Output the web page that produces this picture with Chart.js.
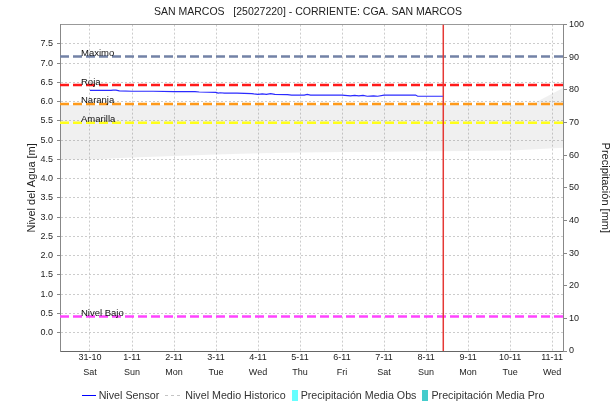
<!DOCTYPE html>
<html>
<head>
<meta charset="utf-8">
<script src="https://cdn.jsdelivr.net/npm/chart.js@4.4.0/dist/chart.umd.min.js"></script>
<style>
    html, body { margin: 0; padding: 0; background: #fff; }
    #wrap { position: relative; width: 616px; height: 402px; }
    #legend {
        position: absolute; left: 0; top: 389px; width: 626px;
        display: flex; justify-content: center; align-items: center;
        font: 10.7px 'Liberation Sans', Arial, sans-serif; color: #333;
    }
    #legend .item { display: flex; align-items: center; margin: 0 3px; }
    #legend .line { width: 14px; height: 1px; background: #0000ff; margin-right: 3px; }
    #legend .dash { width: 16px; height: 1px; margin-right: 4px;
        background: repeating-linear-gradient(90deg, #c4c4c4 0 3px, transparent 3px 6px); }
    #legend .box { width: 6px; height: 11px; margin-right: 3px; }
</style>
</head>
<body>
<div id="wrap">
    <canvas id="chart" width="616" height="402"></canvas>
    <div id="legend">
        <div class="item"><span class="line"></span>Nivel Sensor</div>
        <div class="item"><span class="dash"></span>Nivel Medio Historico</div>
        <div class="item"><span class="box" style="background:#66ffff"></span>Precipitación Media Obs</div>
        <div class="item"><span class="box" style="background:#44cccc"></span>Precipitación Media Pro</div>
    </div>
</div>
<script>
// x axis in days since 31-10 00:00
const dayTicks = [0, 1, 2, 3, 4, 5, 6, 7, 8, 9, 10, 11];
const dateLabels = ['31-10', '1-11', '2-11', '3-11', '4-11', '5-11', '6-11', '7-11', '8-11', '9-11', '10-11', '11-11'];
const weekdayLabels = ['Sat', 'Sun', 'Mon', 'Tue', 'Wed', 'Thu', 'Fri', 'Sat', 'Sun', 'Mon', 'Tue', 'Wed'];

const levelTicks = [0, 0.5, 1, 1.5, 2, 2.5, 3, 3.5, 4, 4.5, 5, 5.5, 6, 6.5, 7, 7.5];
const precipTicks = [0, 10, 20, 30, 40, 50, 60, 70, 80, 90, 100];

const thresholdNames = ['Maximo', 'Roja', 'Naranja', 'Amarilla', 'Nivel Bajo'];
const thresholdLevels = [7.17, 6.43, 5.94, 5.45, 0.42];

const nowMarkerDay = [8.41];

const sensorDays = [0, 0.3, 0.5, 0.55, 0.62, 0.7, 1.0, 1.5, 2.0, 2.5, 2.6, 3.0, 3.05, 3.1, 3.2, 3.5,
    3.85, 3.9, 4.0, 4.1, 4.2, 4.3, 4.4, 4.7, 4.8, 5.1, 5.17, 5.25, 5.5, 6.0, 6.2, 6.3, 6.4, 6.5,
    6.6, 6.75, 6.85, 7.0, 7.4, 7.75, 7.8, 8.1, 8.4];
const sensorLevel = [6.29, 6.29, 6.29, 6.30, 6.30, 6.28, 6.27, 6.27, 6.26, 6.26, 6.25, 6.24, 6.22, 6.23, 6.22, 6.22,
    6.21, 6.20, 6.19, 6.20, 6.19, 6.21, 6.19, 6.18, 6.17, 6.17, 6.19, 6.17, 6.17, 6.17, 6.15, 6.16, 6.15, 6.16,
    6.14, 6.15, 6.14, 6.17, 6.17, 6.17, 6.14, 6.14, 6.14];

// historic range band
const bandDays = [-0.72, 0, 1, 2, 3, 4, 5, 6, 7, 8, 9, 10, 10.5, 11.27];
const bandHigh = [5.91, 5.91, 5.91, 5.91, 5.91, 5.91, 5.91, 5.91, 5.91, 5.91, 5.91, 5.91, 5.92, 6.36];
const bandLow = [4.49, 4.50, 4.55, 4.59, 4.63, 4.66, 4.68, 4.69, 4.70, 4.71, 4.72, 4.73, 4.76, 4.80];

const X_MIN = -0.714, X_MAX = 11.26;
const Y_MIN = -0.475, Y_MAX = 8.0;

const FONT = "'Liberation Sans', Arial, sans-serif";
const thresholdColors = ['#7382a6', '#ff1a1a', '#ff9a1a', '#ffff1a', '#ff44ff'];

const thresholdSets = thresholdLevels.map((v, i) => ({
    label: thresholdNames[i],
    data: [{ x: X_MIN, y: v }, { x: X_MAX, y: v }],
    borderColor: thresholdColors[i],
    borderWidth: 2.5,
    borderDash: [9, 4],
    pointRadius: 0,
    fill: false
}));

const thresholdLabels = {
    id: 'thresholdLabels',
    afterDatasetsDraw(chart) {
        const { ctx, chartArea, scales } = chart;
        ctx.save();
        ctx.font = '9.5px ' + FONT;
        ctx.fillStyle = '#111';
        ctx.textAlign = 'left';
        ctx.textBaseline = 'alphabetic';
        thresholdLevels.forEach((v, i) => {
            ctx.fillText(thresholdNames[i], chartArea.left + 21, scales.y.getPixelForValue(v) - 0.5);
        });
        ctx.restore();
    }
};

new Chart(document.getElementById('chart'), {
    type: 'line',
    data: {
        datasets: [
            {
                label: 'Nivel Sensor',
                data: sensorDays.map((d, i) => ({ x: d, y: sensorLevel[i] })),
                borderColor: '#2b2bff',
                borderWidth: 1.2,
                pointRadius: 0,
                fill: false
            },
            {
                label: 'Ahora',
                data: [{ x: nowMarkerDay[0], y: Y_MIN }, { x: nowMarkerDay[0], y: Y_MAX }],
                borderColor: '#e53935',
                borderWidth: 1.5,
                pointRadius: 0,
                fill: false
            },
            ...thresholdSets,
            {
                label: 'bandLow',
                data: bandDays.map((d, i) => ({ x: d, y: bandLow[i] })),
                borderWidth: 0,
                pointRadius: 0,
                fill: false
            },
            {
                label: 'bandHigh',
                data: bandDays.map((d, i) => ({ x: d, y: bandHigh[i] })),
                borderWidth: 0,
                pointRadius: 0,
                backgroundColor: 'rgba(120,120,120,0.11)',
                fill: '-1'
            }
        ]
    },
    options: {
        responsive: false,
        animation: false,
        devicePixelRatio: 1,
        layout: { padding: 0 },
        plugins: {
            legend: { display: false },
            tooltip: { enabled: false },
            title: {
                display: true,
                text: 'SAN MARCOS   [25027220] - CORRIENTE: CGA. SAN MARCOS',
                color: '#222',
                font: { family: FONT, size: 10.5, weight: 'normal' },
                padding: { top: 6, bottom: 6 }
            }
        },
        scales: {
            x: {
                type: 'linear',
                position: 'bottom',
                min: X_MIN,
                max: X_MAX,
                afterBuildTicks: s => { s.ticks = dayTicks.map(v => ({ value: v })); },
                afterFit: s => { s.height = 51; },
                grid: { color: '#cccccc', drawTicks: false },
                border: { display: true, color: '#666', dash: [2, 2] },
                ticks: {
                    color: '#222',
                    padding: -1,
                    maxRotation: 0,
                    autoSkip: false,
                    font: { family: FONT, size: 9, lineHeight: 1.67 },
                    callback: (v, i) => [dateLabels[i], weekdayLabels[i]]
                }
            },
            x2: {
                type: 'linear',
                position: 'top',
                min: X_MIN,
                max: X_MAX,
                afterFit: s => { s.height = 0; },
                ticks: { display: false },
                grid: { display: false, drawTicks: false },
                border: { display: true, color: '#999' }
            },
            y: {
                type: 'linear',
                position: 'left',
                min: Y_MIN,
                max: Y_MAX,
                afterBuildTicks: s => { s.ticks = levelTicks.map(v => ({ value: v })); },
                afterFit: s => { s.width = 60; },
                grid: { color: '#cccccc', tickLength: 3, tickColor: '#888', tickBorderDash: [] },
                border: { display: true, color: '#888', dash: [2, 2] },
                ticks: {
                    color: '#222',
                    padding: 4,
                    font: { family: FONT, size: 9 },
                    callback: v => v.toFixed(1)
                },
                title: {
                    display: true,
                    text: 'Nivel del Agua [m]',
                    color: '#222',
                    font: { family: FONT, size: 11 },
                    padding: { top: 25, bottom: 0 }
                }
            },
            y2: {
                type: 'linear',
                position: 'right',
                min: 0,
                max: 100,
                afterBuildTicks: s => { s.ticks = precipTicks.map(v => ({ value: v })); },
                afterFit: s => { s.width = 53; },
                grid: { drawOnChartArea: false, drawTicks: true, tickLength: 4, tickColor: '#888', tickBorderDash: [] },
                border: { display: true, color: '#888' },
                ticks: {
                    color: '#222',
                    padding: 2,
                    font: { family: FONT, size: 9 }
                },
                title: {
                    display: true,
                    text: 'Precipitación [mm]',
                    color: '#222',
                    font: { family: FONT, size: 11 },
                    padding: { top: 4, bottom: 0 }
                }
            }
        }
    },
    plugins: [thresholdLabels]
});
</script>
</body>
</html>
